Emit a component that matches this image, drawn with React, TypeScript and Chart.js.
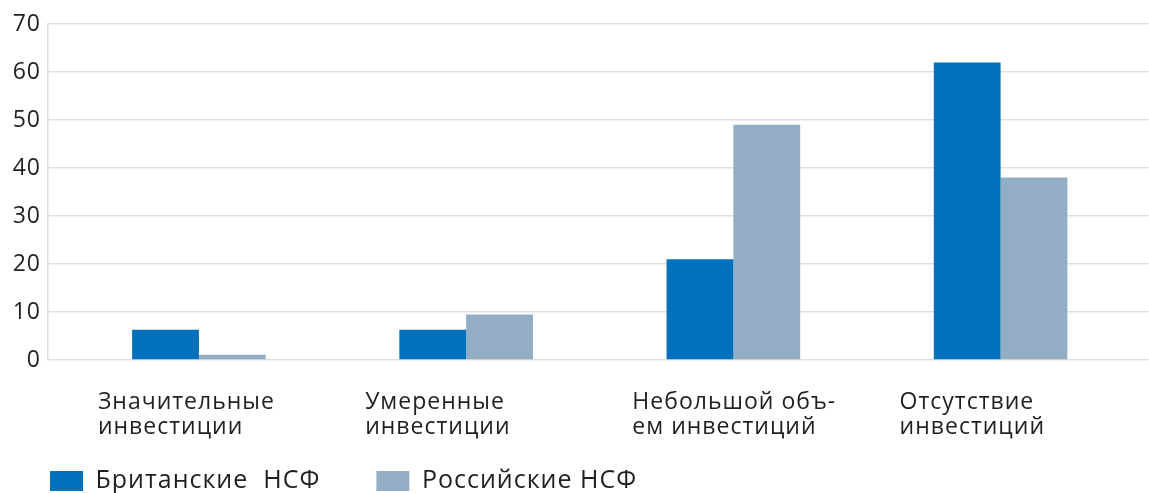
import React, { useEffect, useRef } from "react";
import { Chart, registerables } from "chart.js";

Chart.register(...registerables);

// ---- data ----
const categories: string[][] = [
  ["Значительные", "инвестиции"],
  ["Умеренные", "инвестиции"],
  ["Небольшой объ-", "ем инвестиций"],
  ["Отсутствие", "инвестиций"],
];
const categoryIndex = [0, 1, 2, 3];
const britishValues = [6.3, 6.3, 21, 62];
const russianValues = [1.1, 9.5, 49, 38];
const seriesNames = ["Британские  НСФ", "Российские НСФ"];
const yMin = 0;
const yMax = 70;
const yStep = 10;

// ---- style ----
const FONT = "'Open Sans', sans-serif";
const TEXT = "#231f20";
const BLUE = "#0071ba";
const GREY = "#93aec4";
const GRID = "#dedeea";
const LEG_FONT = 25;
const LEG_PAD = 56;
const PAD_LEFT = 50 - LEG_PAD;
const AXIS_X = 48;
const LEG_CENTER_Y = 481;
const PLOT_BOTTOM = 360;

const spacingPlugin = {
  id: "letterSpacing",
  beforeLayout(chart: any) {
    chart.ctx.letterSpacing = "1px";
  },
  beforeDraw(chart: any) {
    chart.ctx.letterSpacing = "1px";
  },
};

const noLabelClip = (s: any) => {
  s._computeLabelArea = () => undefined;
};

export default function App() {
  const ref = useRef<HTMLCanvasElement | null>(null);
  useEffect(() => {
    if (!ref.current) return;
    const toPoints = (vals: number[]) =>
      vals.map((v, i) => ({ x: categoryIndex[i], y: v }));
    const legendTop = LEG_CENTER_Y - LEG_FONT / 2 - LEG_PAD;
    const legendBottom = legendTop + LEG_PAD + LEG_FONT + 10;
    const chart = new Chart(ref.current, {
      type: "bar",
      data: {
        datasets: [
          {
            label: seriesNames[0],
            data: toPoints(britishValues),
            backgroundColor: BLUE,
            borderColor: BLUE,
            borderWidth: 0,
          },
          {
            label: seriesNames[1],
            data: toPoints(russianValues),
            backgroundColor: GREY,
            borderColor: GREY,
            borderWidth: 0,
          },
        ],
      },
      plugins: [spacingPlugin],
      options: {
        animation: false,
        responsive: false,
        barPercentage: 1,
        categoryPercentage: 0.5,
        layout: {
          padding: { top: 24, left: PAD_LEFT, right: 0, bottom: 493 - legendBottom },
        },
        plugins: {
          tooltip: { enabled: false },
          legend: {
            position: "bottom",
            align: "start",
            labels: {
              boxWidth: 33,
              boxHeight: 20,
              padding: LEG_PAD,
              color: TEXT,
              font: { family: FONT, size: LEG_FONT },
            },
          },
        },
        scales: {
          x: {
            type: "linear",
            bounds: "data",
            offset: false,
            min: -0.5648,
            max: 3.5536,
            grid: { display: false, tickLength: 27 },
            border: { display: false },
            afterBuildTicks: (s: any) => {
              s.ticks = categoryIndex.map((v) => ({ value: v }));
            },
            afterFit: (s: any) => {
              noLabelClip(s);
              s.height = legendTop - PLOT_BOTTOM;
            },
            ticks: {
              autoSkip: false,
              maxRotation: 0,
              minRotation: 0,
              align: "start",
              labelOffset: -101,
              padding: 3,
              color: TEXT,
              font: { family: FONT, size: 23, lineHeight: 1.1 },
              callback: (v: any) => {
                const i = categoryIndex.indexOf(Number(v));
                return i >= 0 ? categories[i] : "";
              },
            },
          },
          y: {
            min: yMin,
            max: yMax,
            afterFit: (s: any) => {
              noLabelClip(s);
              s.width = AXIS_X - PAD_LEFT;
            },
            grid: { color: GRID, lineWidth: 1.5, drawTicks: false },
            border: { color: GRID, width: 1.5 },
            ticks: {
              stepSize: yStep,
              padding: 7,
              color: TEXT,
              font: { family: FONT, size: 23 },
            },
          },
        },
      },
    });
    return () => chart.destroy();
  }, []);
  return (
    <div style={{ position: "fixed", left: 0, top: 0, width: 1149, height: 493, background: "#fff" }}>
      <canvas ref={ref} width={1149} height={493} />
    </div>
  );
}
